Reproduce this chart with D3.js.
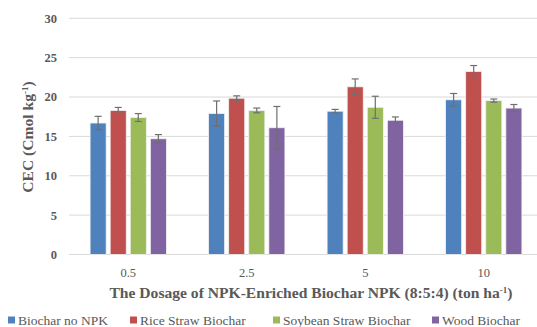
<!DOCTYPE html>
<html>
<head>
<meta charset="utf-8">
<script src="https://cdn.jsdelivr.net/npm/d3@7"></script>
<style>
  html, body { margin: 0; padding: 0; background: #fff; overflow: hidden; }
  svg text { font-family: "Liberation Serif", "DejaVu Serif", "Times New Roman", serif; }
</style>
</head>
<body>
<div id="chart"></div>
<script>
'use strict'

const doses = ['0.5', '2.5', '5', '10']
const seriesNames = ['Biochar no NPK', 'Rice Straw Biochar', 'Soybean Straw Biochar', 'Wood Biochar']
const colors = ['#4f81bd', '#c0504d', '#9bbb59', '#8064a2']
const yTicks = [0, 5, 10, 15, 20, 25, 30]

// mean CEC per series, one value per dose
const noNpk   = [16.7, 17.9, 18.2, 19.65]
const rice    = [18.3, 19.85, 21.3, 23.25]
const soybean = [17.4, 18.3, 18.7, 19.55]
const wood    = [14.7, 16.1, 17.05, 18.6]
// error bar half-lengths
const noNpkErr   = [0.85, 1.6, 0.23, 0.8]
const riceErr    = [0.38, 0.3, 1.0, 0.75]
const soybeanErr = [0.5, 0.3, 1.4, 0.2]
const woodErr    = [0.53, 2.7, 0.42, 0.45]

const means = [noNpk, rice, soybean, wood]
const errs = [noNpkErr, riceErr, soybeanErr, woodErr]

const W = 537, H = 327
const margin = {top: 18.3, left: 69, bottom: H - 254.5}
const plotRight = 543

const svg = d3.select('#chart').append('svg')
  .attr('width', W)
  .attr('height', H)

const x = d3.scaleBand()
  .domain(doses)
  .range([margin.left, plotRight])

const xInner = d3.scaleBand()
  .domain(seriesNames)
  .range([0, x.bandwidth()])
  .paddingInner(0.2)
  .paddingOuter(1.05)

const y = d3.scaleLinear()
  .domain([0, 30])
  .range([H - margin.bottom, margin.top])

// gridlines
svg.append('g')
  .selectAll('line')
  .data(yTicks)
  .join('line')
    .attr('x1', margin.left)
    .attr('x2', plotRight)
    .attr('y1', d => y(d))
    .attr('y2', d => y(d))
    .attr('stroke', '#d9d9d9')
    .attr('stroke-width', 1)

// y tick labels
svg.append('g')
  .selectAll('text')
  .data(yTicks)
  .join('text')
    .attr('x', 57)
    .attr('y', d => y(d))
    .attr('dy', '0.35em')
    .attr('text-anchor', 'end')
    .attr('font-size', 12.5)
    .attr('font-weight', 'bold')
    .attr('fill', '#595959')
    .text(d => d)

// x tick labels
svg.append('g')
  .selectAll('text')
  .data(doses)
  .join('text')
    .attr('x', d => x(d) + x.bandwidth() / 2)
    .attr('y', 273)
    .attr('dy', '0.35em')
    .attr('text-anchor', 'middle')
    .attr('font-size', 12.5)
    .attr('fill', '#595959')
    .text(d => d)

// bars
const rows = []
means.forEach((s, si) => s.forEach((v, di) => rows.push({
  series: seriesNames[si], dose: doses[di], value: v, err: errs[si][di], color: colors[si]
})))

svg.append('g')
  .selectAll('rect')
  .data(rows)
  .join('rect')
    .attr('x', d => x(d.dose) + xInner(d.series))
    .attr('y', d => y(d.value))
    .attr('width', xInner.bandwidth())
    .attr('height', d => y(0) - y(d.value))
    .attr('fill', d => d.color)
    .attr('stroke', '#f2f2f2')
    .attr('stroke-width', 0.8)

// error bars
const eb = svg.append('g')
  .attr('stroke', '#6f6f6f')
  .attr('stroke-width', 1.2)
  .selectAll('g')
  .data(rows)
  .join('g')
    .attr('transform', d => `translate(${x(d.dose) + xInner(d.series) + xInner.bandwidth() / 2},0)`)

eb.append('line')
  .attr('y1', d => y(d.value + d.err))
  .attr('y2', d => y(d.value - d.err))
eb.append('line')
  .attr('x1', -3.5).attr('x2', 3.5)
  .attr('y1', d => y(d.value + d.err))
  .attr('y2', d => y(d.value + d.err))
eb.append('line')
  .attr('x1', -3.5).attr('x2', 3.5)
  .attr('y1', d => y(d.value - d.err))
  .attr('y2', d => y(d.value - d.err))

// axis titles
const xTitle = svg.append('text')
  .attr('x', 311)
  .attr('y', 293)
  .attr('dy', '0.35em')
  .attr('text-anchor', 'middle')
  .attr('font-size', 15.6)
  .attr('font-weight', 'bold')
  .attr('fill', '#595959')
xTitle.append('tspan').text('The Dosage of NPK-Enriched Biochar NPK (8:5:4) (ton ha')
xTitle.append('tspan').attr('baseline-shift', 'super').attr('font-size', 9).text('-1')
xTitle.append('tspan').text(')')

const yTitle = svg.append('text')
  .attr('transform', 'translate(28,137) rotate(-90)')
  .attr('dy', '0.35em')
  .attr('text-anchor', 'middle')
  .attr('font-size', 15.6)
  .attr('font-weight', 'bold')
  .attr('fill', '#595959')
yTitle.append('tspan').text('CEC (Cmol kg')
yTitle.append('tspan').attr('baseline-shift', 'super').attr('font-size', 9).text('-1')
yTitle.append('tspan').text(')')

// legend
const legendX = [8, 130, 273, 432]
const legend = svg.append('g')
  .selectAll('g')
  .data(seriesNames)
  .join('g')
    .attr('transform', (d, i) => `translate(${legendX[i]},320)`)

legend.append('rect')
  .attr('x', 0)
  .attr('y', -3.5)
  .attr('width', 7)
  .attr('height', 7)
  .attr('fill', (d, i) => colors[i])

legend.append('text')
  .attr('x', 10)
  .attr('y', 0)
  .attr('dy', '0.35em')
  .attr('font-size', 13.5)
  .attr('fill', '#595959')
  .text(d => d)
</script>
</body>
</html>
